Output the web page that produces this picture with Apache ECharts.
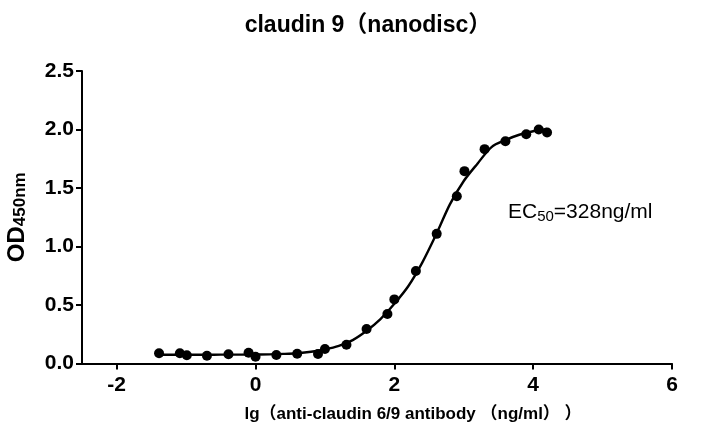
<!DOCTYPE html>
<html>
<head>
<meta charset="utf-8">
<script src="https://cdn.jsdelivr.net/npm/echarts@6/dist/echarts.min.js"></script>
<style>html,body{margin:0;padding:0;background:#fff;}#c{width:702px;height:447px;}</style>
</head>
<body>
<div id="c"></div>
<script>
// Data
const titleText = 'claudin 9（nanodisc）';
const xAxisName = 'lg（anti-claudin 6/9 antibody （ng/ml） ）';
const ec50Text = '328ng/ml';
const xTicks = [-2, 0, 2, 4, 6];

const pointX = [-1.39, -1.09, -0.99, -0.70, -0.39, -0.10, 0.00, 0.30, 0.60, 0.90, 1.00, 1.31,
                1.60, 1.90, 2.00, 2.31, 2.61, 2.90, 3.01, 3.30, 3.60, 3.90, 4.08, 4.20];
const pointY = [0.087, 0.087, 0.070, 0.067, 0.079, 0.092, 0.058, 0.073, 0.084, 0.081, 0.124, 0.161,
                0.295, 0.423, 0.548, 0.790, 1.108, 1.430, 1.644, 1.832, 1.900, 1.960, 2.000, 1.974];

const curveX = [-1.4, -1.2, -1.0, -0.8, -0.6, -0.4, -0.2, 0.0, 0.2, 0.4, 0.6, 0.8, 1.0, 1.2, 1.4,
                1.6, 1.8, 2.0, 2.2, 2.4, 2.6, 2.8, 3.0, 3.2, 3.4, 3.6, 3.8, 4.0, 4.2];
const curveY = [0.075, 0.075, 0.075, 0.075, 0.075, 0.076, 0.076, 0.077, 0.078, 0.082, 0.088, 0.100, 0.120, 0.150, 0.200,
                0.280, 0.380, 0.510, 0.660, 0.860, 1.100, 1.360, 1.560, 1.710, 1.850, 1.910, 1.955, 1.985, 2.005];

const FONT = '"Liberation Sans", Arial, "Noto Sans CJK SC", sans-serif';

const chart = echarts.init(document.getElementById('c'), null, {renderer: 'canvas'});
chart.setOption({
  animation: false,
  backgroundColor: '#fff',
  title: {
    text: titleText, left: 363, top: 9, textAlign: 'center',
    textStyle: {fontFamily: FONT, fontWeight: 'bold', fontSize: 23, color: '#000'}
  },
  grid: {left: 82, right: 30, top: 71, bottom: 83.5, containLabel: false, outerBoundsMode: 'none'},
  xAxis: {
    type: 'value', min: -2.5, max: 6,
    name: xAxisName, nameLocation: 'middle', nameGap: 42,
    nameTextStyle: {fontFamily: FONT, fontWeight: 'bold', fontSize: 17, color: '#000', padding: [0, 0, 0, 72]},
    axisLine: {show: true, onZero: false, lineStyle: {color: '#000', width: 2}},
    axisTick: {show: true, length: 6, lineStyle: {color: '#000', width: 2}, customValues: xTicks},
    axisLabel: {customValues: xTicks, fontFamily: FONT, fontWeight: 'bold', fontSize: 21, color: '#000', margin: 11},
    splitLine: {show: false}
  },
  yAxis: {
    type: 'value', min: 0, max: 2.5, interval: 0.5,
    name: '{a|OD}{b|450nm}', nameLocation: 'middle', nameGap: 53, nameRotate: 90,
    nameTextStyle: {
      rich: {
        a: {fontFamily: FONT, fontWeight: 'bold', fontSize: 24, color: '#000'},
        b: {fontFamily: FONT, fontWeight: 'bold', fontSize: 17, color: '#000', verticalAlign: 'bottom', padding: [7, 0, 0, 0]}
      }
    },
    axisLine: {show: true, onZero: false, lineStyle: {color: '#000', width: 2}},
    axisTick: {show: true, length: 6, lineStyle: {color: '#000', width: 2}},
    axisLabel: {fontFamily: FONT, fontWeight: 'bold', fontSize: 21, color: '#000', margin: 8,
      formatter: v => v.toFixed(1)},
    splitLine: {show: false}
  },
  series: [
    {
      type: 'line', data: curveX.map((x, i) => [x, curveY[i]]),
      smooth: 0.3, showSymbol: false, symbol: 'none',
      lineStyle: {color: '#000', width: 2.4}, silent: true, z: 2
    },
    {
      type: 'scatter', data: pointX.map((x, i) => [x, pointY[i]]),
      symbol: 'circle', symbolSize: 10, itemStyle: {color: '#000', opacity: 1}, z: 3
    }
  ],
  graphic: [{
    type: 'text', left: 508, top: 202,
    style: {
      text: '{a|EC}{b|50}{a|=' + ec50Text + '}',
      rich: {
        a: {fontFamily: FONT, fontSize: 21, fill: '#000'},
        b: {fontFamily: FONT, fontSize: 15, fill: '#000', verticalAlign: 'bottom', padding: [9, 0, 0, 0]}
      }
    }
  }]
});
</script>
</body>
</html>
